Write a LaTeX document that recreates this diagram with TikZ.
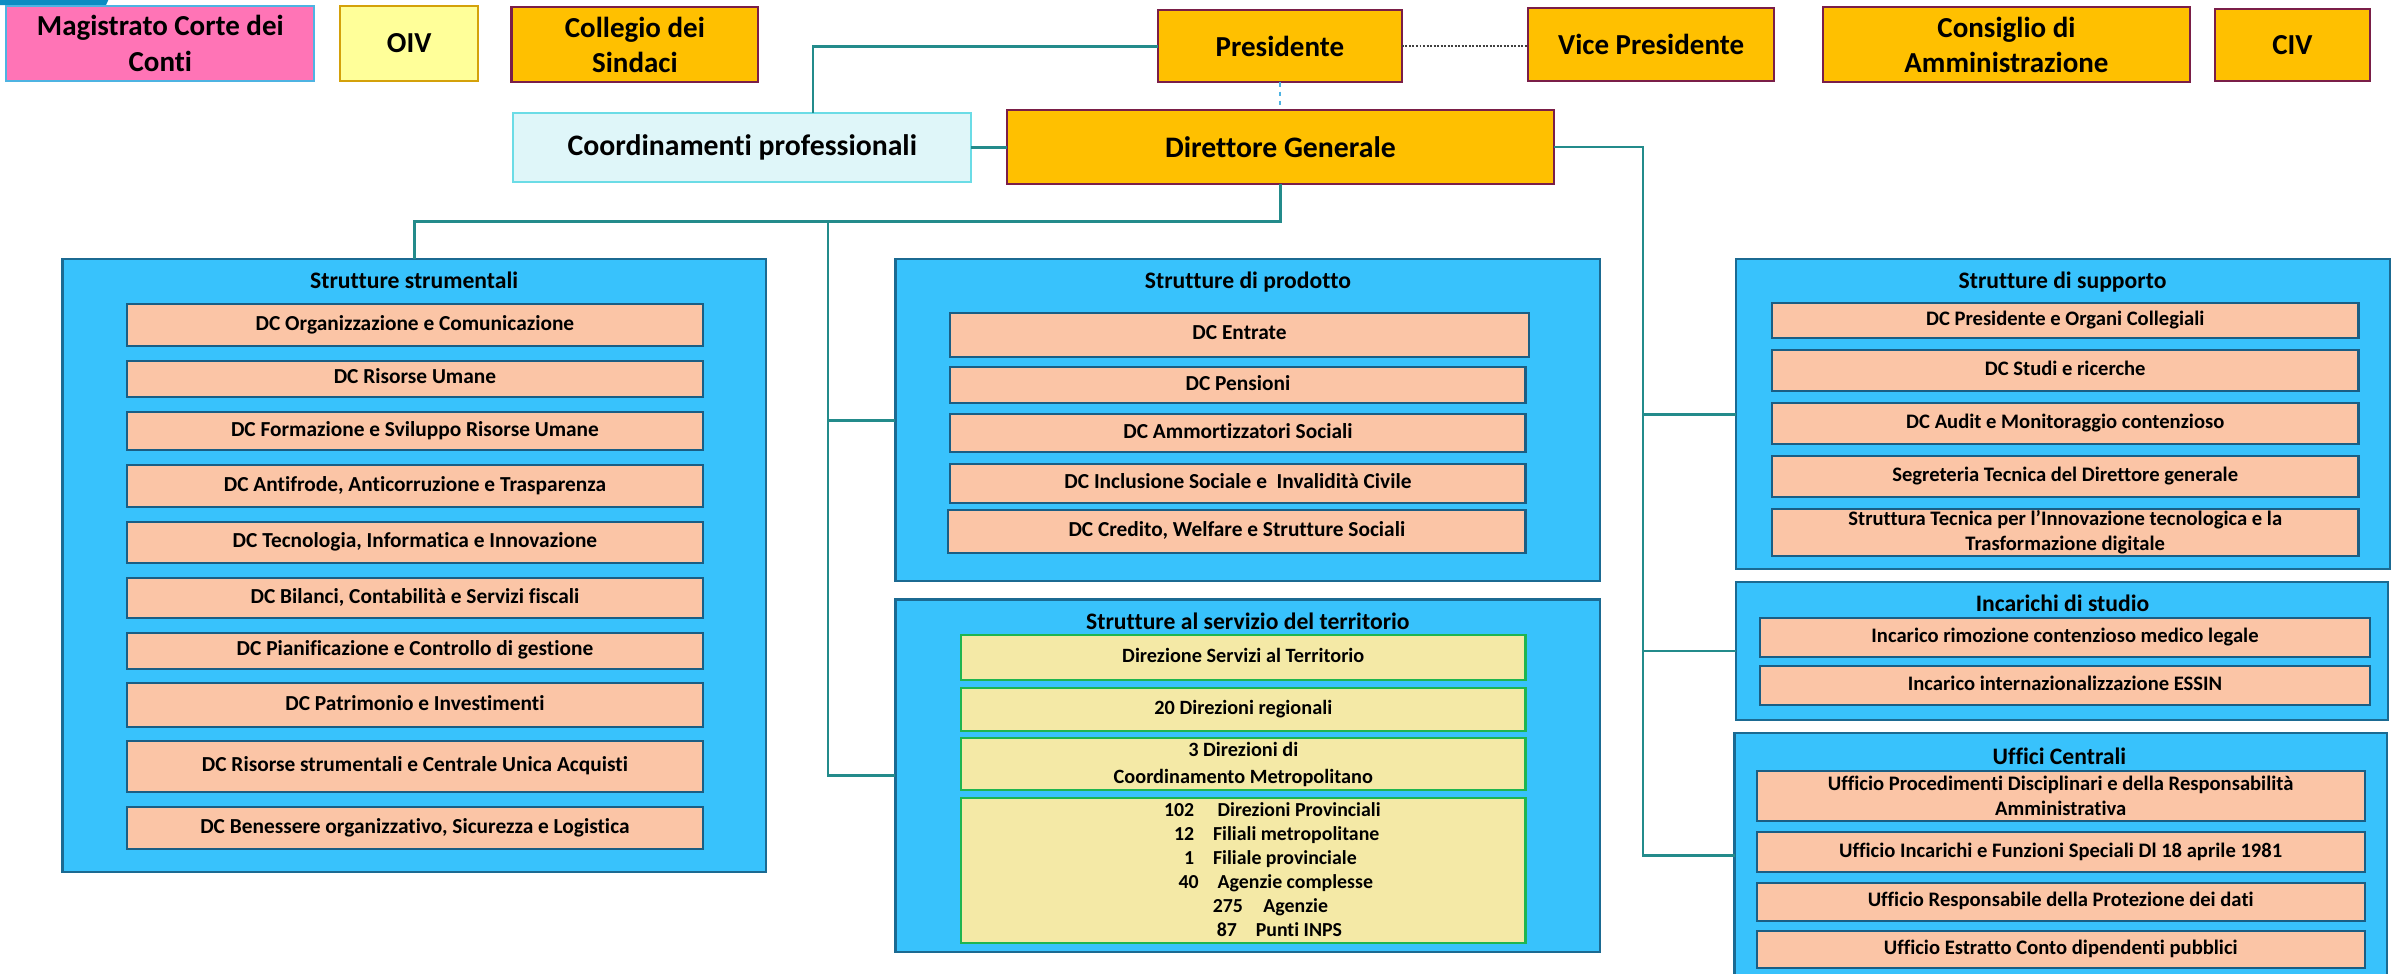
\documentclass[tikz,border=0pt]{standalone}
\usepackage{fontspec}
\setmainfont{Carlito}[Ligatures=NoCommon]
\definecolor{teal1}{HTML}{238B8B}
\definecolor{cblue}{HTML}{38C2FC}
\definecolor{cborder}{HTML}{1B6A92}
\definecolor{peach}{HTML}{FBC5A6}
\definecolor{dcborder}{HTML}{1A5E84}
\definecolor{gold}{HTML}{FFC000}
\definecolor{maroonB}{HTML}{7A1E48}
\definecolor{pinkM}{HTML}{FF74B6}
\definecolor{pinkB}{HTML}{4EB3E2}
\definecolor{oivF}{HTML}{FFFF99}
\definecolor{oivB}{HTML}{D4A10A}
\definecolor{coordF}{HTML}{DFF6F9}
\definecolor{coordB}{HTML}{6BDCE6}
\definecolor{khaki}{HTML}{F4E9A6}
\definecolor{grn}{HTML}{1FB550}
\definecolor{tabblue}{HTML}{0B8CC2}
\newcommand{\bx}[7]{\node[#1,anchor=north west,minimum width={#4-#2},minimum height={#5-#3}] (#6) at (#2,#3) {#7};}
\tikzset{
  base/.style={inner sep=0pt,outer sep=0pt,align=center,line width=1.4pt},
  topfont/.style={font=\bfseries\fontsize{19}{23}\selectfont},
  gbox/.style={base,topfont,fill=gold,draw=maroonB},
  pinkbox/.style={base,topfont,fill=pinkM,draw=pinkB},
  oivbox/.style={base,topfont,fill=oivF,draw=oivB},
  coordbox/.style={base,font=\bfseries\fontsize{19.5}{23}\selectfont,fill=coordF,draw=coordB},
  dgbox/.style={base,font=\bfseries\fontsize{19.5}{23}\selectfont,fill=gold,draw=maroonB},
  container/.style={base,fill=cblue,draw=cborder},
  ctitle/.style={inner sep=0pt,font=\bfseries\fontsize{15.5}{18}\selectfont,text height=0.78em,text depth=0.12em},
  dcL/.style={base,fill=peach,draw=dcborder,font=\bfseries\fontsize{14}{17}\selectfont,text height=0.78em,text depth=0.12em},
  dcR/.style={base,fill=peach,draw=dcborder,font=\bfseries\fontsize{13.5}{16.6}\selectfont,text height=0.78em,text depth=0.12em},
  multi/.style={text height={},text depth={}},
  terrbox/.style={base,fill=khaki,draw=grn,font=\bfseries\fontsize{13.3}{17.5}\selectfont,text height=0.78em,text depth=0.12em},
  tnum/.style={inner sep=0pt,font=\bfseries\fontsize{13}{15}\selectfont,anchor=mid east,yshift=-1pt},
  tlab/.style={inner sep=0pt,font=\bfseries\fontsize{13}{15}\selectfont,anchor=mid west,yshift=-1pt},
  conn/.style={draw=teal1,line width=1.8pt},
}
\begin{document}
\begin{tikzpicture}[x=1pt,y=-1pt]
\useasboundingbox[fill=white] (0,0) rectangle (1568,638);
\fill[tabblue] (0,0) -- (71,0) -- (69.5,3.3) -- (0,3.3) -- cycle;

% top row
\bx{pinkbox}{4.2}{3.9}{206}{53}{mag}{Magistrato Corte dei\\Conti}
\bx{oivbox}{223}{3.9}{313.5}{52.9}{oiv}{OIV}
\bx{gbox}{335.3}{4.4}{497}{54}{coll}{Collegio dei\\Sindaci}
\bx{gbox}{759}{6.6}{919}{54}{pres}{Presidente}
\bx{gbox}{1001.7}{5.5}{1163}{52.9}{vice}{Vice Presidente}
\bx{gbox}{1195}{4.4}{1435.5}{54}{cda}{Consiglio di\\Amministrazione}
\bx{gbox}{1452}{6.1}{1553.5}{52.9}{civ}{CIV}

\bx{coordbox}{336.5}{74.3}{636.7}{119.3}{coord}{Coordinamenti professionali}
\bx{dgbox}{660}{72}{1018.7}{120.8}{dg}{Direttore Generale}

% containers
\bx{container}{41}{170}{502}{571.6}{strum}{}
\bx{container}{587}{170}{1049}{381}{prod}{}
\bx{container}{587}{393}{1049}{624}{terr}{}
\bx{container}{1138}{170}{1566.7}{373}{supp}{}
\bx{container}{1138}{381.3}{1565.5}{472}{inc}{}
\bx{container}{1137}{480.5}{1564.6}{641.5}{uff}{}

\node[ctitle] (tstrum) at (271.5,186) {Strutture strumentali};
\node[ctitle] (tprod) at (818,186) {Strutture di prodotto};
\node[ctitle] (tterr) at (818,409.5) {Strutture al servizio del territorio};
\node[ctitle] (tsupp) at (1352,186) {Strutture di supporto};
\node[ctitle] (tinc) at (1352,397.7) {Incarichi di studio};
\node[ctitle] (tuff) at (1350,498) {Uffici Centrali};

% strutture strumentali
\bx{dcL}{83}{199.3}{461}{226.8}{s1}{DC Organizzazione e Comunicazione}
\bx{dcL}{83}{236.4}{461}{260.2}{s2}{DC Risorse Umane}
\bx{dcL}{83}{270}{461}{295}{s3}{DC Formazione e Sviluppo Risorse Umane}
\bx{dcL}{83}{305}{461}{332.4}{s4}{DC Antifrode, Anticorruzione e Trasparenza}
\bx{dcL}{83}{342}{461}{369}{s5}{DC Tecnologia, Informatica e Innovazione}
\bx{dcL}{83}{379}{461}{405}{s6}{DC Bilanci, Contabilità e Servizi fiscali}
\bx{dcL}{83}{414.7}{461}{438.5}{s7}{DC Pianificazione e Controllo di gestione}
\bx{dcL}{83}{447.9}{461}{476.4}{s8}{DC Patrimonio e Investimenti}
\bx{dcL}{83}{485.8}{461}{519.3}{s9}{DC Risorse strumentali e Centrale Unica Acquisti}
\bx{dcL}{83}{528.8}{461}{556.7}{s10}{DC Benessere organizzativo, Sicurezza e Logistica}

% strutture di prodotto
\bx{dcL}{623}{205}{1002}{233.8}{p1}{DC Entrate}
\bx{dcL}{623}{240.8}{1000}{264.4}{p2}{DC Pensioni}
\bx{dcL}{623}{271.4}{1000}{296.3}{p3}{DC Ammortizzatori Sociali}
\bx{dcL}{623}{304.2}{1000}{329.5}{p4}{DC Inclusione Sociale e\ \ Invalidità Civile}
\bx{dcL}{621.6}{334.3}{1000}{362.3}{p5}{DC Credito, Welfare e Strutture Sociali}

% territorio
\bx{terrbox}{630}{416}{1000}{446}{t1}{Direzione Servizi al Territorio}
\bx{terrbox}{630}{451}{1000}{479}{t2}{20 Direzioni regionali}
\bx{terrbox,multi}{630}{484}{1000}{518}{t3}{3 Direzioni di\\Coordinamento Metropolitano}
\bx{terrbox}{630}{523}{1000}{618}{t4}{}
\node[tnum] (n1) at (783,531.6) {102};
\node[tlab] (l1) at (798,531.6) {Direzioni Provinciali};
\node[tnum] (n2) at (783,547.4) {12};
\node[tlab] (l2) at (795,547.4) {Filiali metropolitane};
\node[tnum] (n3) at (783,563) {1};
\node[tlab] (l3) at (795,563) {Filiale provinciale};
\node[tnum] (n4) at (786,578.8) {40};
\node[tlab] (l4) at (798,578.8) {Agenzie complesse};
\node[tnum] (n5) at (815,594.6) {275};
\node[tlab] (l5) at (828,594.6) {Agenzie};
\node[tnum] (n6) at (811,610.3) {87};
\node[tlab] (l6) at (823,610.3) {Punti INPS};

% supporto
\bx{dcR}{1161.6}{198.4}{1546}{221.6}{u1}{DC Presidente e Organi Collegiali}
\bx{dcR}{1161.6}{229.4}{1546}{256.3}{u2}{DC Studi e ricerche}
\bx{dcR}{1161.6}{264.4}{1546}{291}{u3}{DC Audit e Monitoraggio contenzioso}
\bx{dcR}{1161.6}{299}{1546}{325.8}{u4}{Segreteria Tecnica del Direttore generale}
\bx{dcR,multi}{1161.6}{333.8}{1546}{364.3}{u5}{Struttura Tecnica per l’Innovazione tecnologica e la\\Trasformazione digitale}

% incarichi
\bx{dcR}{1153.7}{405}{1553.6}{430.9}{i1}{Incarico rimozione contenzioso medico legale}
\bx{dcR}{1153.7}{436.6}{1553.6}{462.2}{i2}{Incarico internazionalizzazione ESSIN}

% uffici
\bx{dcR,multi}{1151.6}{505.2}{1550}{538}{f1}{Ufficio Procedimenti Disciplinari e della Responsabilità\\Amministrativa}
\bx{dcR}{1151.6}{545.4}{1550}{571.6}{f2}{Ufficio Incarichi e Funzioni Speciali Dl 18 aprile 1981}
\bx{dcR}{1151.6}{578.6}{1550}{603.5}{f3}{Ufficio Responsabile della Protezione dei dati}
\bx{dcR}{1151.6}{610.3}{1550}{634.6}{f4}{Ufficio Estratto Conto dipendenti pubblici}

% connectors
\draw[conn] (pres.west) -| ([xshift=46.4pt]coord.north);
\draw[draw=black!75,line width=1.3pt,densely dotted] (pres.east) -- (pres.east -| vice.west);
\draw[draw=pinkB,line width=1pt,dashed] (pres.south) -- (pres.south |- dg.north);
\draw[conn] (coord.east) -- (coord.east -| dg.west);
\coordinate (jl) at (542.7,145.3);
\draw[conn] (dg.south) -- ++(0,24.5) -| (strum.north);
\draw[conn] (jl) |- (prod.west);
\draw[conn] (jl) |- (terr.west);
\coordinate (jr) at (1077,96.4);
\draw[conn] (dg.east) -- (jr) |- (supp.west);
\draw[conn] (jr) |- (inc.west);
\draw[conn] (jr) |- (uff.west);
\end{tikzpicture}
\end{document}
